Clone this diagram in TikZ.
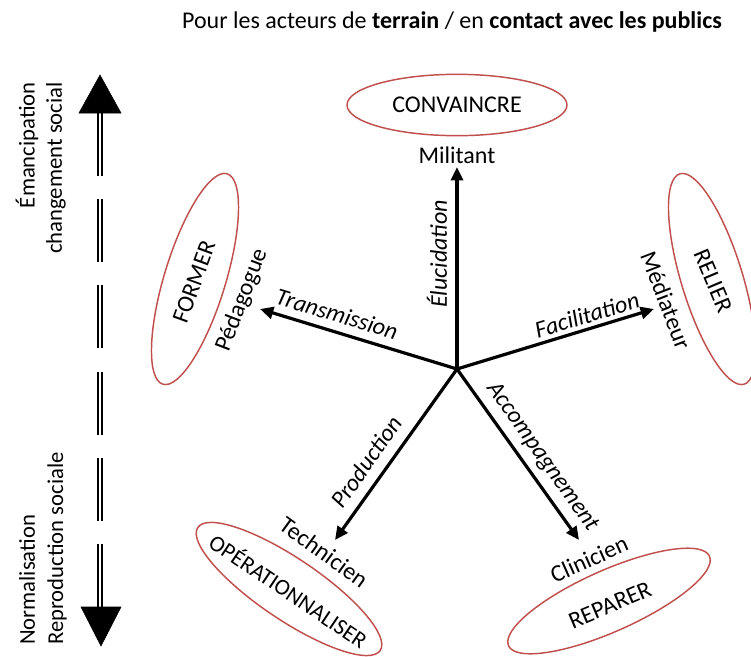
\documentclass[tikz,border=0pt]{standalone}
\usepackage{fontspec}
\setmainfont{Carlito}
\usetikzlibrary{arrows.meta,shapes.geometric}
\definecolor{ellred}{HTML}{C0504D}
\begin{document}
\begin{tikzpicture}[x=0.75pt,y=-0.75pt,
  lab/.style={font=\fontsize{18}{21}\selectfont, inner sep=0pt},
  ilab/.style={font=\fontsize{18}{21}\selectfont\itshape, inner sep=0pt},
  slab/.style={font=\fontsize{17}{20}\selectfont, inner sep=0pt, rotate=90},
  oval/.style={draw=ellred, line width=1.1pt, ellipse, inner sep=0pt,
    minimum width=165pt, minimum height=46pt},
  ray/.style={line width=2.4pt, -{Triangle[length=10pt,width=9pt]}},
  bighead/.style={fill=black},
  shaft/.style={line width=1.2pt, double distance=2pt,
    dash pattern=on 47.25pt off 17.4pt}
]
\useasboundingbox (0,0) rectangle (751,657);

% title
\node[lab] (title) at (452,22) {Pour les acteurs de \textbf{terrain} / en \textbf{contact avec les publics}};

% left axis
\draw[shaft] (100,113) -- (100,607);
\draw[bighead] (100,75) -- (79,113) -- (121,113) -- cycle;
\draw[bighead] (101,646) -- (81,607) -- (121,607) -- cycle;
\node[slab, anchor=east] (eman) at (27,82) {Émancipation};
\node[slab, anchor=east] (chg) at (56,82) {changement social};
\node[slab, anchor=west] (norm) at (27,645) {Normalisation};
\node[slab, anchor=west] (repr) at (57,645) {Reproduction sociale};

% ellipses
\node[oval] (eConv) at (457,105) {};
\node[lab] (tConv) at (457,105) {CONVAINCRE};
\node[oval, rotate=73] (eForm) at (195,279) {};
\node[lab, rotate=70] (tForm) at (194,282) {FORMER};
\node[oval, rotate=-73] (eRel) at (712,279) {};
\node[lab, rotate=-67] (tRel) at (713,281) {RELIER};
\node[oval, rotate=-34] (eOp) at (289,589) {};
\node[lab, rotate=-34, font=\fontsize{17}{20}\selectfont] (tOp) at (289,590) {OPÉRATIONNALISER};
\node[oval, rotate=24] (eRep) at (609,601) {};
\node[lab, rotate=23] (tRep) at (610,605) {REPARER};

% rays
\coordinate (c) at (457,369);
\coordinate (tU) at (457,167);
\coordinate (tL) at (260,309);
\coordinate (tR) at (654,309);
\coordinate (tDL) at (335,540);
\coordinate (tDR) at (579,540);
\draw[ray] (c) -- (tU);
\draw[ray] (c) -- (tL);
\draw[ray] (c) -- (tR);
\draw[ray] (c) -- (tDL);
\draw[ray] (c) -- (tDR);

% actor labels
\node[lab] (mil) at (457,155) {Militant};
\node[lab, rotate=69] (ped) at (242,300) {Pédagogue};
\node[lab, rotate=-69] (med) at (666,300) {Médiateur};
\node[lab, rotate=-36] (tech) at (324,552) {Technicien};
\node[lab, rotate=24] (clin) at (589,559) {Clinicien};

% ray labels
\node[ilab, rotate=90] (eluc) at (437,254) {Élucidation};
\node[ilab, rotate=-16.7] (trans) at (337,314) {Transmission};
\node[ilab, rotate=17] (facil) at (587,315) {Facilitation};
\node[ilab, rotate=55] (prod) at (366,462) {Production};
\node[ilab, rotate=-54.6] (acc) at (542,457) {Accompagnement};
\end{tikzpicture}
\end{document}
